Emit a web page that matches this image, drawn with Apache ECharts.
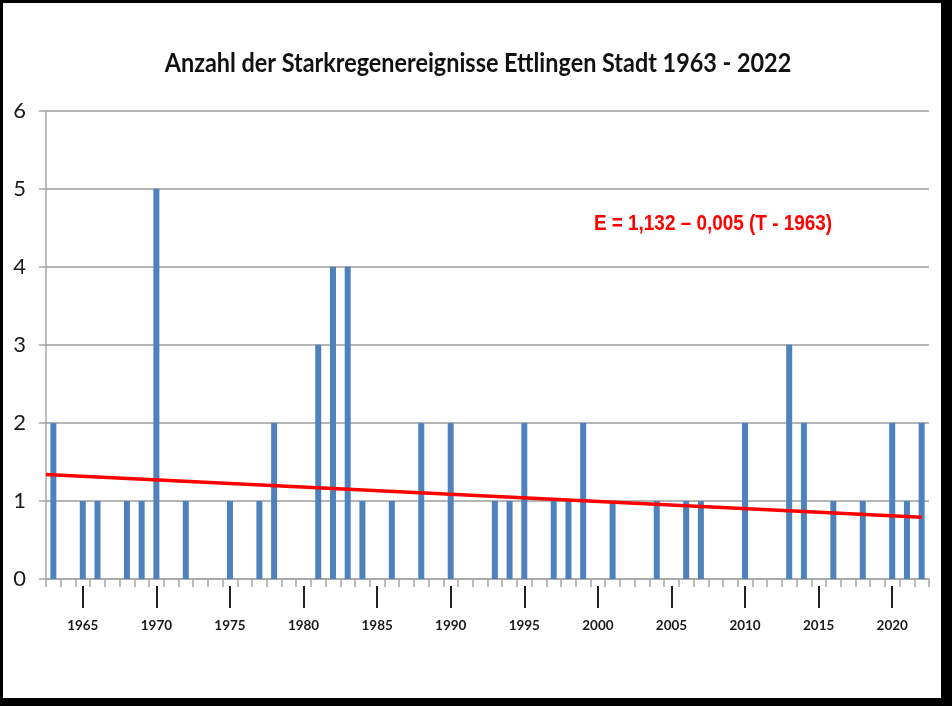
<!DOCTYPE html>
<html>
<head>
<meta charset="utf-8">
<script src="https://cdn.jsdelivr.net/npm/echarts@6/dist/echarts.min.js"></script>
<style>
html,body{margin:0;padding:0;background:#fff;}
#c{width:952px;height:706px;}
</style>
</head>
<body>
<div id="c"></div>
<script>
const years = [];
for (let y = 1963; y <= 2022; y++) years.push(String(y));
// events per year 1963..2022
const events = [
  2,0,1,1,0,1,1,5,0,1,   // 1963-1972
  0,0,1,0,1,2,0,0,3,4,   // 1973-1982
  4,1,0,1,0,2,0,2,0,0,   // 1983-1992
  1,1,2,0,1,1,2,0,1,0,   // 1993-2002
  0,1,0,1,1,0,0,2,0,0,   // 2003-2012
  3,2,0,1,0,1,0,2,1,2    // 2013-2022
];
const trendX = [1962.5, 2022];
const trendY = [1.34, 0.79];
const yTicks = [0,1,2,3,4,5,6];
const titleText = 'Anzahl der Starkregenereignisse Ettlingen Stadt 1963 - 2022';
const equationText = 'E = 1,132 \u2013 0,005 (T - 1963)';

const chart = echarts.init(document.getElementById('c'));
const grid = {left: 46, right: 23, top: 110.7, bottom: 127};
chart.setOption({
  animation: false,
  backgroundColor: '#fff',
  grid: grid,
  xAxis: [
    {
      type: 'category', data: years, boundaryGap: true,
      axisLine: {lineStyle: {color: '#a6a6a6', width: 1.5}},
      axisTick: {show: true, interval: 0, length: 8, lineStyle: {color: '#a6a6a6', width: 1.5}},
      axisLabel: {show: false}
    },
    {
      type: 'category', data: years, boundaryGap: true, position: 'bottom', offset: 7,
      axisLine: {show: false},
      axisTick: {show: true, alignWithLabel: true, length: 22,
        interval: (i, v) => Number(v) % 5 === 0,
        lineStyle: {color: '#222', width: 2}},
      axisLabel: {show: true, margin: 33, fontFamily: 'Lato', fontWeight: 'bold', fontSize: 13.5, color: '#1a1a1a',
        interval: (i, v) => Number(v) % 5 === 0}
    },
    {
      type: 'value', min: 1962.5, max: 2022.5, show: false
    }
  ],
  yAxis: {
    type: 'value', min: 0, max: 6, interval: 1,
    axisLine: {show: true, lineStyle: {color: '#a6a6a6', width: 1.5}},
    axisTick: {show: true, length: 7, lineStyle: {color: '#a6a6a6', width: 1.5}},
    axisLabel: {margin: 20, fontFamily: 'Lato', fontSize: 22, color: '#1a1a1a',
      formatter: v => yTicks.includes(v) ? String(v) : ''},
    splitLine: {lineStyle: {color: '#b5b5b5', width: 2}}
  },
  series: [
    {
      type: 'bar', xAxisIndex: 0, data: events, barWidth: 6,
      itemStyle: {color: '#4f81bd'}
    },
    {
      type: 'line', xAxisIndex: 2, showSymbol: false, symbol: 'none',
      data: trendX.map((x, i) => [x, trendY[i]]),
      lineStyle: {color: '#ff0000', width: 3.5}, z: 5
    }
  ],
  graphic: [
    {type: 'text', x: 478, y: 64, scaleX: 0.9, originX: 0, originY: 0,
      style: {text: titleText, fill: '#111', align: 'center', verticalAlign: 'middle',
        font: 'bold 26px Lato'}},
    {type: 'text', x: 713, y: 224, scaleX: 0.86, originX: 0, originY: 0,
      style: {text: equationText, fill: '#ff0000', align: 'center', verticalAlign: 'middle',
        font: 'bold 22px "Liberation Sans", sans-serif'}},
    {type: 'rect', shape: {x: 1.5, y: 1.5, width: 941, height: 698},
      style: {fill: 'none', stroke: '#000', lineWidth: 3}, silent: true},
    {type: 'rect', shape: {x: 942, y: 0, width: 10, height: 706}, style: {fill: '#000'}},
    {type: 'rect', shape: {x: 0, y: 699, width: 952, height: 7}, style: {fill: '#000'}}
  ]
});
</script>
</body>
</html>
